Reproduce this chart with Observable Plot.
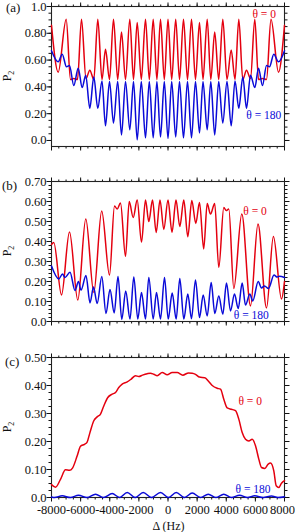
<!DOCTYPE html>
<html><head><meta charset="utf-8">
<script src="https://cdn.jsdelivr.net/npm/d3@7"></script>
<script src="https://cdn.jsdelivr.net/npm/@observablehq/plot@0.6"></script>
<style>
html,body{margin:0;padding:0;background:#fff;}
#chart{width:295px;height:532px;overflow:hidden;}
#chart svg{display:block;}
</style></head><body><div id="chart"></div>
<script>
// ---------- x axis ----------
const xTicks = [-8000,-6000,-4000,-2000,0,2000,4000,6000,8000];
const xTickLabels = ["-8000","-6000","-4000","-2000","0","2000","4000","6000","8000"];
const xMinor = [-8000,-7500,-7000,-6500,-6000,-5500,-5000,-4500,-4000,-3500,-3000,-2500,-2000,-1500,-1000,-500,0,500,1000,1500,2000,2500,3000,3500,4000,4500,5000,5500,6000,6500,7000,7500,8000];
const xTitle = "Δ (Hz)";
const yTitle = "P";
const yTitleSub = "2";

// ---------- panel (a) ----------
const aYTicks = [0,0.2,0.4,0.6,0.8,1.0];
const aYLabels = ["0.0","0.20","0.40","0.60","0.80","1.0"];
const aYMinor = [0,0.05,0.1,0.15,0.2,0.25,0.3,0.35,0.4,0.45,0.5,0.55,0.6,0.65,0.7,0.75,0.8,0.85,0.9,0.95,1.0];
const aRedHz = [-8000,-7540,-6990,-6695,-6469,-6215,-5940,-5631,-5370,-5095,-4821,-4532,-4292,-4017,-3743,-3454,-3193,-2918,-2623,-2369,-2115,-1834,-1545,-1284,-1016,-762,-515,-254,0,254,529,790,1064,1339,1614,1888,2163,2403,2692,2939,3207,3482,3763,4052,4340,4601,4862,5137,5391,5665,5961,6215,6489,6764,7073,7588,8000];
const aRedP = [0.86,0.51,0.905,0.455,0.462,0.455,0.905,0.462,0.525,0.455,0.905,0.455,0.68,0.455,0.905,0.455,0.81,0.455,0.905,0.455,0.88,0.455,0.905,0.455,0.905,0.455,0.905,0.455,0.905,0.455,0.905,0.455,0.905,0.455,0.905,0.455,0.88,0.455,0.905,0.455,0.81,0.455,0.905,0.455,0.675,0.455,0.905,0.455,0.525,0.462,0.905,0.455,0.462,0.455,0.905,0.51,0.86];
const aBlueHz = [-8000,-7540,-7265,-6970,-6764,-6469,-6166,-5892,-5650,-5370,-5095,-4821,-4532,-4292,-4017,-3743,-3454,-3193,-2918,-2623,-2369,-2115,-1834,-1545,-1284,-1016,-762,-515,-254,0,254,529,790,1064,1339,1614,1888,2163,2403,2692,2939,3207,3482,3763,4052,4340,4601,4862,5137,5391,5665,5961,6215,6489,6764,6970,7265,7588,8000];
const aBlueP = [0.67,0.587,0.644,0.55,0.56,0.41,0.54,0.395,0.487,0.24,0.474,0.24,0.444,0.11,0.44,0.13,0.44,0.04,0.44,0.08,0.44,0.005,0.44,0.02,0.44,0.02,0.44,0.025,0.44,0.015,0.44,0.025,0.44,0.02,0.44,0.02,0.44,0.055,0.44,0.08,0.44,0.04,0.44,0.13,0.44,0.11,0.444,0.24,0.474,0.24,0.487,0.395,0.54,0.41,0.56,0.55,0.644,0.587,0.67];

// ---------- panel (b) ----------
const bYTicks = [0,0.1,0.2,0.3,0.4,0.5,0.6,0.7];
const bYLabels = ["0.0","0.10","0.20","0.30","0.40","0.50","0.60","0.70"];
const bYMinor = [0,0.02,0.04,0.06,0.08,0.1,0.12,0.14,0.16,0.18,0.2,0.22,0.24,0.26,0.28,0.3,0.32,0.34,0.36,0.38,0.4,0.42,0.44,0.46,0.48,0.5,0.52,0.54,0.56,0.58,0.6,0.62,0.64,0.66,0.68,0.7];
const bRedHz = [-8000,-7842,-7313,-6764,-6194,-5645,-5095,-4553,-4017,-3674,-3488,-3262,-2918,-2664,-2390,-2115,-1820,-1545,-1318,-1064,-810,-549,-288,0,275,549,810,1085,1360,1634,1909,2163,2452,2692,2918,3207,3488,3832,3997,4175,4519,5068,5665,6180,6764,7238,7794,8000];
const bRedP = [0.385,0.395,0.133,0.448,0.107,0.512,0.145,0.553,0.232,0.578,0.562,0.592,0.325,0.6,0.52,0.607,0.397,0.607,0.5,0.607,0.445,0.607,0.46,0.607,0.447,0.607,0.475,0.607,0.424,0.605,0.49,0.595,0.363,0.59,0.537,0.59,0.27,0.57,0.555,0.562,0.165,0.537,0.078,0.487,0.068,0.425,0.113,0.2];
const bBlueHz = [-8000,-7498,-7245,-7073,-6730,-6386,-6146,-5974,-5631,-5356,-5116,-4862,-4546,-4258,-3983,-3694,-3433,-3173,-2905,-2609,-2348,-2074,-1820,-1545,-1318,-1016,-790,-515,-240,14,288,563,810,1085,1360,1614,1888,2163,2417,2692,2966,3214,3488,3763,4017,4292,4567,4821,5095,5322,5617,5823,6194,6421,6627,6901,7279,7499,7657,8000];
const bBlueP = [0.278,0.213,0.237,0.22,0.246,0.155,0.2,0.157,0.23,0.093,0.172,0.09,0.225,0.04,0.16,0.043,0.225,0.01,0.152,0.012,0.223,0.012,0.145,0.012,0.22,0.012,0.145,0.012,0.22,0.012,0.142,0.012,0.215,0.012,0.137,0.014,0.208,0.02,0.132,0.028,0.195,0.04,0.128,0.037,0.192,0.053,0.137,0.065,0.192,0.082,0.137,0.103,0.2,0.168,0.178,0.165,0.232,0.222,0.226,0.22];

// ---------- panel (c) ----------
const cYTicks = [0,0.1,0.2,0.3,0.4,0.5];
const cYLabels = ["0.0","0.10","0.20","0.30","0.40","0.50"];
const cYMinor = [0,0.025,0.05,0.075,0.1,0.125,0.15,0.175,0.2,0.225,0.25,0.275,0.3,0.325,0.35,0.375,0.4,0.425,0.45,0.475,0.5];
const cRedHz = [-8000,-7725,-7382,-7039,-6764,-6558,-6235,-6009,-5734,-5562,-5370,-5095,-4862,-4635,-4409,-4134,-3832,-3605,-3379,-3145,-2802,-2527,-2232,-2005,-1751,-1428,-1202,-975,-742,-398,-55,288,632,1016,1408,1662,1888,2163,2527,2781,3035,3379,3605,3832,4065,4361,4635,4862,5095,5322,5549,5782,6009,6235,6421,6647,6881,7039,7265,7430,7609,7794,8000];
const cRedP = [0.046,0.037,0.065,0.099,0.097,0.105,0.149,0.183,0.19,0.197,0.23,0.274,0.288,0.298,0.327,0.357,0.369,0.375,0.393,0.405,0.413,0.423,0.435,0.432,0.437,0.442,0.444,0.44,0.435,0.446,0.438,0.446,0.446,0.437,0.445,0.444,0.44,0.43,0.428,0.415,0.4,0.39,0.387,0.351,0.32,0.315,0.31,0.28,0.232,0.208,0.202,0.208,0.185,0.137,0.107,0.104,0.119,0.123,0.095,0.042,0.036,0.051,0.06];
const cBlueHz = [-8000,-7794,-7265,-6695,-6146,-5562,-4978,-4429,-3832,-3330,-2802,-2252,-1703,-1133,-515,34,563,1133,1662,2232,2761,3296,3832,4361,4910,5459,5961,6537,7107,7554,8000];
const cBlueP = [0.002,0,0.006,0,0.008,0,0.012,0,0.014,0,0.018,0,0.018,0,0.018,0,0.018,0,0.016,0,0.012,0,0.012,0,0.008,0,0.006,0,0.005,0,0.003];

// ---------- annotations ----------
const seriesNames = ["θ = 0", "θ = 180"];
const panelNames = ["(a)", "(b)", "(c)"];

const RED = "#e4000f";
const BLUE = "#0a0ad8";
const FONT = "'Liberation Serif', 'Times New Roman', serif";

function rows(hz, p) { return hz.map((h, i) => ({hz: h, p: p[i]})); }

function panel(cfg) {
  const yLab = new Map(cfg.yTicks.map((t, i) => [t, cfg.yLabels[i]]));
  const xLab = new Map(xTicks.map((t, i) => [t, xTickLabels[i]]));
  const none = () => "";
  const labelTicks = xTicks.slice(0, -1);
  const lastTick = xTicks.slice(-1);
  const svg = Plot.plot({
    width: 295,
    height: cfg.height,
    marginLeft: 51,
    marginRight: 11,
    marginTop: cfg.mt,
    marginBottom: cfg.mb,
    style: {fontFamily: FONT, fontSize: "12.5px", color: "#111", background: "#fff", overflow: "visible"},
    x: {domain: [-8000, 8000]},
    y: {domain: cfg.ydom},
    marks: [
      Plot.axisX({anchor: "top", ticks: xMinor, tickSize: 2.5, tickFormat: none, label: null}),
      Plot.axisX({anchor: "top", ticks: xTicks, tickSize: 4.5, tickFormat: none, label: null}),
      Plot.axisX({anchor: "bottom", ticks: xMinor, tickSize: 2.5, tickFormat: none, label: null}),
      Plot.axisX({anchor: "bottom", ticks: xTicks, tickSize: 4.5, tickFormat: none, label: null}),
      ...(cfg.showX ? [
        Plot.axisX({anchor: "bottom", ticks: labelTicks, tickSize: 0, tickPadding: 7.5,
          tickFormat: d => xLab.get(d), label: null}),
        Plot.axisX({anchor: "bottom", ticks: lastTick, tickSize: 0, tickPadding: 7.5,
          textAnchor: "end", dx: 10.5, tickFormat: d => xLab.get(d), label: null})
      ] : []),
      Plot.axisY({anchor: "left", ticks: cfg.yMinor, tickSize: 2.5, tickFormat: none, label: null}),
      Plot.axisY({anchor: "left", ticks: cfg.yTicks, tickSize: 4.5, tickPadding: 0.5,
        tickFormat: d => yLab.get(d), label: null}),
      Plot.axisY({anchor: "right", ticks: cfg.yMinor, tickSize: 2.5, tickFormat: none, label: null}),
      Plot.axisY({anchor: "right", ticks: cfg.yTicks, tickSize: 4.5, tickFormat: none, label: null}),
      Plot.frame({stroke: "#222", strokeWidth: 1.1}),
      Plot.line(rows(cfg.redHz, cfg.redP), {x: "hz", y: "p", stroke: RED, strokeWidth: 1.5, curve: "monotone-x"}),
      Plot.line(rows(cfg.blueHz, cfg.blueP), {x: "hz", y: "p", stroke: BLUE, strokeWidth: 1.5, curve: "monotone-x"}),
      Plot.text([cfg.notes[0]], {x: "hz", y: "p", text: "t", fill: RED, fontSize: 11.5, fontFamily: FONT}),
      Plot.text([cfg.notes[1]], {x: "hz", y: "p", text: "t", fill: BLUE, fontSize: 11.5, fontFamily: FONT})
    ]
  });
  const s = d3.select(svg);
  const cy = cfg.mt + (cfg.height - cfg.mt - cfg.mb) / 2;
  const t = s.append("text")
    .attr("transform", `translate(11,${cy}) rotate(-90)`)
    .attr("text-anchor", "middle")
    .attr("font-family", FONT).attr("font-size", 12).attr("fill", "#111");
  t.append("tspan").text(yTitle);
  t.append("tspan").attr("font-size", 8).attr("dy", 3).text(yTitleSub);
  s.append("text")
    .attr("x", cfg.lab[0]).attr("y", cfg.lab[1])
    .attr("text-anchor", "start")
    .attr("font-family", FONT).attr("font-size", 13).attr("fill", "#111")
    .text(cfg.name);
  if (cfg.showX) {
    s.append("text")
      .attr("x", 51 + 233 / 2 + 1).attr("y", cfg.height - 2.5)
      .attr("text-anchor", "middle")
      .attr("font-family", FONT).attr("font-size", 12).attr("fill", "#111")
      .text(xTitle);
  }
  return svg;
}

const root = document.getElementById("chart");
root.appendChild(panel({
  height: 175, mt: 6, mb: 29, ydom: [-0.045, 1.0],
  yTicks: aYTicks, yLabels: aYLabels, yMinor: aYMinor,
  redHz: aRedHz, redP: aRedP, blueHz: aBlueHz, blueP: aBlueP,
  notes: [{hz: 6606, p: 0.944, t: seriesNames[0]}, {hz: 6580, p: 0.187, t: seriesNames[1]}],
  name: panelNames[0], lab: [6, 11.5], showX: false
}));
root.appendChild(panel({
  height: 175, mt: 6, mb: 29, ydom: [0, 0.7],
  yTicks: bYTicks, yLabels: bYLabels, yMinor: bYMinor,
  redHz: bRedHz, redP: bRedP, blueHz: bBlueHz, blueP: bBlueP,
  notes: [{hz: 5974, p: 0.553, t: seriesNames[0]}, {hz: 5720, p: 0.0285, t: seriesNames[1]}],
  name: panelNames[1], lab: [2, 15], showX: false
}));
root.appendChild(panel({
  height: 182, mt: 7, mb: 35, ydom: [0, 0.5],
  yTicks: cYTicks, yLabels: cYLabels, yMinor: cYMinor,
  redHz: cRedHz, redP: cRedP, blueHz: cBlueHz, blueP: cBlueP,
  notes: [{hz: 5645, p: 0.344, t: seriesNames[0]}, {hz: 5837, p: 0.031, t: seriesNames[1]}],
  name: panelNames[2], lab: [5, 16], showX: true
}));
</script>
</body></html>
